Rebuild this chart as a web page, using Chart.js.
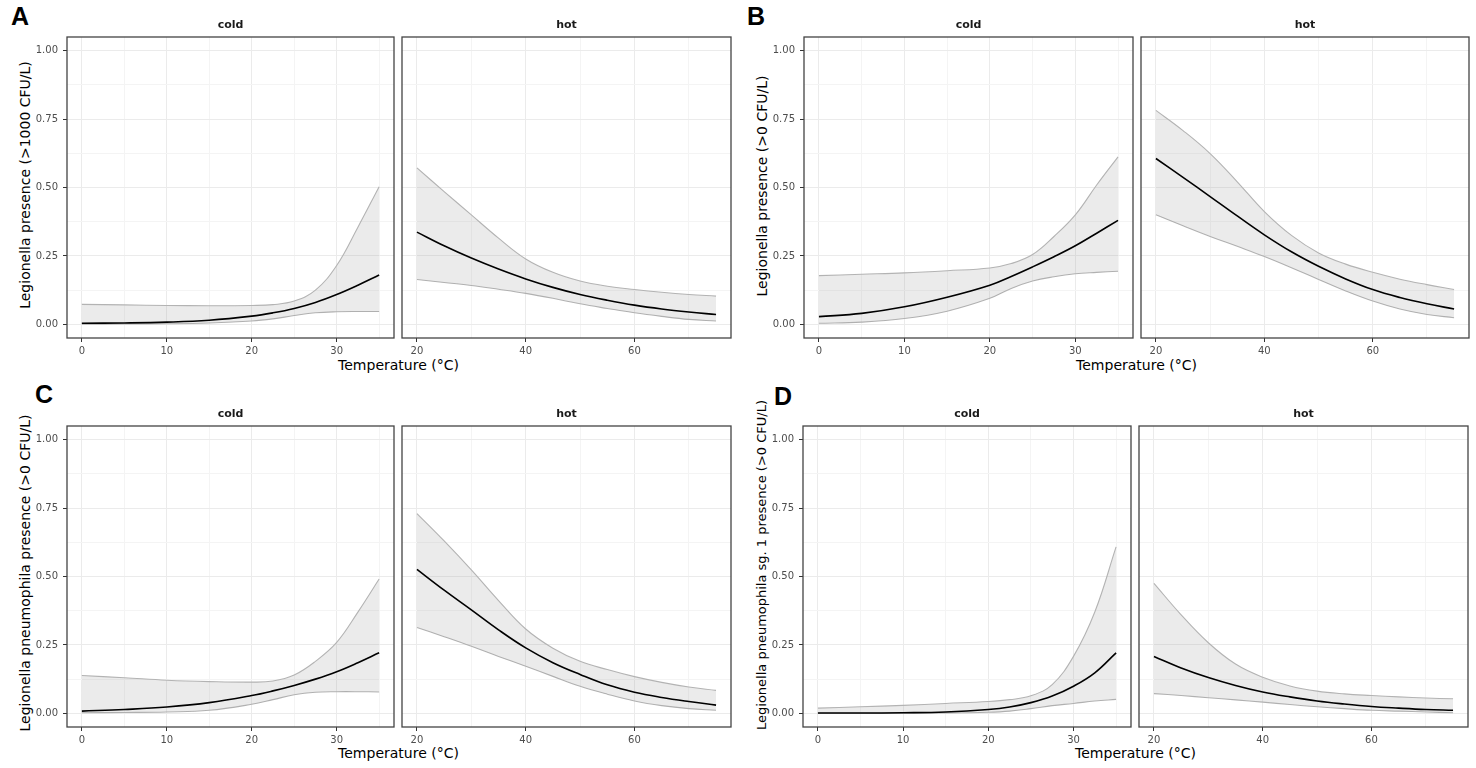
<!DOCTYPE html>
<html>
<head>
<meta charset="utf-8">
<script src="https://cdn.jsdelivr.net/npm/chart.js@4.4.0/dist/chart.umd.min.js"></script>
<style>
  body { margin: 0; background: #fff; width: 1476px; height: 768px; position: relative; overflow: hidden; font-family: "DejaVu Sans", sans-serif; }
  canvas { position: absolute; }
  .letter { position: absolute; font-family: "Liberation Sans", Arial, sans-serif; font-weight: bold; font-size: 25px; line-height: 25px; color: #000; }
  .xtitle { position: absolute; font-size: 14px; line-height: 14px; white-space: nowrap; transform: translateX(-50%); color: #000; }
  .ytitle { position: absolute; font-size: 14px; line-height: 14px; white-space: nowrap; transform: translate(-50%, -50%) rotate(-90deg); color: #000; }
</style>
</head>
<body>
<div class="letter" style="left:11px;top:4px">A</div>
<div class="letter" style="left:747px;top:4px">B</div>
<div class="letter" style="left:35px;top:382px">C</div>
<div class="letter" style="left:774px;top:384px">D</div>

<div class="ytitle" style="left:24.5px;top:185px">Legionella presence (&gt;1000 CFU/L)</div>
<div class="ytitle" style="left:762px;top:186px">Legionella presence (&gt;0 CFU/L)</div>
<div class="ytitle" style="left:24.5px;top:573px">Legionella pneumophila presence (&gt;0 CFU/L)</div>
<div class="ytitle" style="left:761px;top:565px;font-size:13px;line-height:13px">Legionella pneumophila sg. 1 presence (&gt;0 CFU/L)</div>

<div class="xtitle" style="left:398.5px;top:358px">Temperature (°C)</div>
<div class="xtitle" style="left:1136.5px;top:358px">Temperature (°C)</div>
<div class="xtitle" style="left:398.5px;top:746px">Temperature (°C)</div>
<div class="xtitle" style="left:1135.5px;top:746px">Temperature (°C)</div>

<script>
// temperatures (x) for each facet
const coldTemp = [0, 5, 10, 15, 20, 22.5, 25, 27.5, 30, 32.5, 35];
const hotTemp = [20, 25, 30, 35, 40, 45, 50, 55, 60, 65, 70, 75];

// tick labels / grid
const yMajor = [0, 0.25, 0.5, 0.75, 1];
const yMinor = [0.125, 0.375, 0.625, 0.875];
const coldMajor = [0, 10, 20, 30];
const coldMinor = [5, 15, 25, 35];
const hotMajor = [20, 40, 60];
const hotMinor = [30, 50, 70];

// A: Legionella > 1000 CFU/L
const aColdFit  = [0.004, 0.005, 0.008, 0.015, 0.030, 0.042, 0.058, 0.080, 0.109, 0.143, 0.180];
const aColdHigh = [0.073, 0.071, 0.069, 0.068, 0.069, 0.072, 0.085, 0.125, 0.215, 0.355, 0.503];
const aColdLow  = [0.000, 0.001, 0.002, 0.005, 0.012, 0.020, 0.032, 0.042, 0.046, 0.047, 0.047];
const aHotFit  = [0.337, 0.287, 0.242, 0.202, 0.166, 0.135, 0.109, 0.088, 0.070, 0.056, 0.045, 0.036];
const aHotHigh = [0.572, 0.485, 0.400, 0.315, 0.239, 0.190, 0.158, 0.139, 0.127, 0.117, 0.109, 0.103];
const aHotLow  = [0.164, 0.153, 0.142, 0.128, 0.113, 0.095, 0.075, 0.058, 0.042, 0.029, 0.018, 0.012];

// B: Legionella > 0 CFU/L
const bColdFit  = [0.028, 0.040, 0.064, 0.099, 0.143, 0.175, 0.210, 0.247, 0.287, 0.333, 0.380];
const bColdHigh = [0.178, 0.183, 0.188, 0.196, 0.206, 0.222, 0.255, 0.321, 0.400, 0.509, 0.612];
const bColdLow  = [0.004, 0.008, 0.021, 0.048, 0.095, 0.131, 0.158, 0.174, 0.185, 0.190, 0.194];
const bHotFit  = [0.606, 0.537, 0.467, 0.396, 0.327, 0.265, 0.212, 0.166, 0.127, 0.098, 0.075, 0.056];
const bHotHigh = [0.782, 0.708, 0.624, 0.521, 0.412, 0.325, 0.261, 0.220, 0.190, 0.165, 0.145, 0.127];
const bHotLow  = [0.400, 0.360, 0.321, 0.285, 0.248, 0.207, 0.164, 0.122, 0.085, 0.056, 0.036, 0.024];

// C: L. pneumophila > 0 CFU/L
const cColdFit  = [0.008, 0.014, 0.023, 0.039, 0.065, 0.082, 0.102, 0.125, 0.152, 0.185, 0.221];
const cColdHigh = [0.138, 0.130, 0.121, 0.116, 0.114, 0.118, 0.140, 0.190, 0.259, 0.370, 0.491];
const cColdLow  = [0.002, 0.003, 0.005, 0.011, 0.033, 0.050, 0.068, 0.077, 0.079, 0.079, 0.078];
const cHotFit  = [0.526, 0.450, 0.378, 0.305, 0.239, 0.185, 0.142, 0.104, 0.077, 0.058, 0.043, 0.030];
const cHotHigh = [0.730, 0.630, 0.524, 0.412, 0.308, 0.238, 0.190, 0.160, 0.134, 0.113, 0.096, 0.084];
const cHotLow  = [0.314, 0.280, 0.245, 0.208, 0.172, 0.135, 0.099, 0.070, 0.045, 0.028, 0.017, 0.011];

// D: L. pneumophila sg. 1 > 0 CFU/L
const dColdFit  = [0.001, 0.001, 0.002, 0.005, 0.014, 0.023, 0.039, 0.063, 0.099, 0.148, 0.221];
const dColdHigh = [0.019, 0.024, 0.029, 0.036, 0.043, 0.050, 0.064, 0.105, 0.208, 0.370, 0.608];
const dColdLow  = [0.000, 0.000, 0.000, 0.001, 0.004, 0.008, 0.017, 0.028, 0.036, 0.045, 0.051];
const dHotFit  = [0.208, 0.166, 0.131, 0.102, 0.078, 0.060, 0.045, 0.034, 0.025, 0.019, 0.014, 0.011];
const dHotHigh = [0.475, 0.360, 0.258, 0.180, 0.132, 0.100, 0.081, 0.071, 0.065, 0.060, 0.056, 0.053];
const dHotLow  = [0.072, 0.065, 0.057, 0.049, 0.041, 0.032, 0.024, 0.017, 0.011, 0.008, 0.005, 0.002];

// colours (ggplot theme_bw look)
const colLine = '#000000';
const colBand = '#b3b3b3';
const colFill = 'rgba(153,153,153,0.2)';
const colGrid = '#ebebeb';
const colGridMinor = '#f4f4f4';
const colTick = '#333333';
const colText = '#4d4d4d';

// draws the box around each facet
const panelBorder = {
  id: 'panelBorder',
  afterDraw(chart) {
    const { ctx, chartArea: a } = chart;
    ctx.save();
    ctx.strokeStyle = '#444';
    ctx.lineWidth = 1.3;
    ctx.strokeRect(a.left, a.top, a.right - a.left, a.bottom - a.top);
    ctx.restore();
  }
};

function pts(xs, ys) {
  return xs.map((x, i) => ({ x: x, y: ys[i] }));
}

function hasVal(list, v) {
  return list.some(m => Math.abs(m - v) < 1e-9);
}

function facet(box, top, temps, fit, low, high, xMajor, xMinor, strip, withY) {
  const yw = withY ? 40 : 4;
  const titleH = 22, xh = 20, padR = 3, plotH = 301;
  const canvas = document.createElement('canvas');
  canvas.width = Math.round(yw + box[1] - box[0] + padR);
  canvas.height = titleH + plotH + xh;
  canvas.style.left = (box[0] - yw) + 'px';
  canvas.style.top = (top - titleH) + 'px';
  document.body.appendChild(canvas);

  const xAll = xMajor.concat(xMinor).sort((a, b) => a - b);
  const yAll = yMajor.concat(yMinor).sort((a, b) => a - b);
  const span = temps[temps.length - 1] - temps[0];

  new Chart(canvas.getContext('2d'), {
    type: 'line',
    data: {
      datasets: [
        { data: pts(temps, fit), borderColor: colLine, borderWidth: 1.6, fill: false },
        { data: pts(temps, high), borderColor: colBand, borderWidth: 1.1, backgroundColor: colFill, fill: '+1' },
        { data: pts(temps, low), borderColor: colBand, borderWidth: 1.1, fill: false }
      ]
    },
    options: {
      responsive: false,
      animation: false,
      events: [],
      layout: { padding: { right: padR } },
      elements: {
        point: { radius: 0 },
        line: { tension: 0.4 }
      },
      scales: {
        x: {
          type: 'linear',
          min: temps[0] - span * 0.05,
          max: temps[temps.length - 1] + span * 0.05,
          afterBuildTicks: s => { s.ticks = xAll.map(v => ({ value: v })); },
          afterFit: s => { s.height = xh; },
          border: { display: false },
          grid: {
            color: c => hasVal(xMajor, c.tick.value) ? colGrid : colGridMinor,
            tickColor: c => hasVal(xMajor, c.tick.value) ? colTick : 'rgba(0,0,0,0)',
            tickLength: 4,
            tickWidth: 1
          },
          ticks: {
            autoSkip: false,
            maxRotation: 0,
            padding: 3,
            color: colText,
            font: { family: 'DejaVu Sans', size: 10 },
            callback: v => hasVal(xMajor, v) ? String(v) : ''
          }
        },
        y: {
          min: -0.05,
          max: 1.05,
          afterBuildTicks: s => { s.ticks = yAll.map(v => ({ value: v })); },
          afterFit: s => { s.width = yw; },
          border: { display: false },
          grid: {
            color: c => hasVal(yMajor, c.tick.value) ? colGrid : colGridMinor,
            drawTicks: withY,
            tickColor: c => hasVal(yMajor, c.tick.value) ? colTick : 'rgba(0,0,0,0)',
            tickLength: 4,
            tickWidth: 1
          },
          ticks: {
            display: withY,
            autoSkip: false,
            padding: 5,
            color: colText,
            font: { family: 'DejaVu Sans', size: 10 },
            callback: v => hasVal(yMajor, v) ? v.toFixed(2) : ''
          }
        }
      },
      plugins: {
        legend: { display: false },
        tooltip: { enabled: false },
        title: {
          display: true,
          text: strip,
          fullSize: false,
          color: '#1a1a1a',
          font: { family: 'DejaVu Sans', size: 11, weight: 'bold' },
          padding: { top: 4, bottom: 4.8 }
        }
      }
    },
    plugins: [panelBorder]
  });
}

// row 1
facet([67, 394], 37, coldTemp, aColdFit, aColdLow, aColdHigh, coldMajor, coldMinor, 'cold', true);
facet([402, 731], 37, hotTemp, aHotFit, aHotLow, aHotHigh, hotMajor, hotMinor, 'hot', false);
facet([804, 1133], 37, coldTemp, bColdFit, bColdLow, bColdHigh, coldMajor, coldMinor, 'cold', true);
facet([1141, 1469], 37, hotTemp, bHotFit, bHotLow, bHotHigh, hotMajor, hotMinor, 'hot', false);
// row 2
facet([67, 394], 426, coldTemp, cColdFit, cColdLow, cColdHigh, coldMajor, coldMinor, 'cold', true);
facet([402, 731], 426, hotTemp, cHotFit, cHotLow, cHotHigh, hotMajor, hotMinor, 'hot', false);
facet([803, 1131], 426, coldTemp, dColdFit, dColdLow, dColdHigh, coldMajor, coldMinor, 'cold', true);
facet([1139, 1468], 426, hotTemp, dHotFit, dHotLow, dHotHigh, hotMajor, hotMinor, 'hot', false);
</script>
</body>
</html>
